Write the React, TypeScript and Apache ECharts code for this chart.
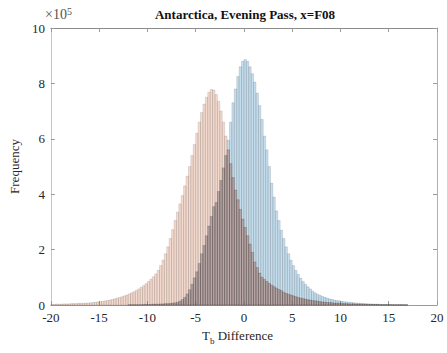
import React, { useEffect, useRef } from "react";
import * as echarts from "echarts";

// Histogram bins (values in units of 1e5 counts), both on the same 0.25-wide bin grid
const binWidth = 0.25;
const tanStart = -20;
const blueStart = -12;

const tanCounts: number[] = [
  // -20 .. -15
  0.02, 0.02, 0.03, 0.03, 0.03, 0.04, 0.04, 0.04,
  0.05, 0.05, 0.05, 0.06, 0.06, 0.06, 0.07, 0.07,
  0.08, 0.09, 0.10, 0.11,
  // -15 .. -10
  0.12, 0.13, 0.15, 0.16, 0.18, 0.20, 0.22, 0.25,
  0.27, 0.30, 0.33, 0.36, 0.40, 0.44, 0.48, 0.53,
  0.58, 0.64, 0.70, 0.77,
  // -10 .. -5
  0.85, 0.93, 1.02, 1.12, 1.25, 1.42, 1.62, 1.85,
  2.10, 2.40, 2.72, 3.05, 3.35, 3.65, 3.95, 4.30,
  4.65, 5.00, 5.40, 5.80,
  // -5 .. 0
  6.20, 6.60, 6.95, 7.25, 7.50, 7.68, 7.78, 7.76,
  7.60, 7.35, 7.00, 6.60, 6.10, 5.60, 5.10, 4.60,
  4.15, 3.80, 3.45, 3.10,
  // 0 .. 5
  2.80, 2.50, 2.20, 1.90, 1.55, 1.35, 1.15, 1.00,
  0.92, 0.85, 0.78, 0.72, 0.66, 0.61, 0.56, 0.52,
  0.46, 0.42, 0.39, 0.36,
  // 5 .. 10
  0.33, 0.30, 0.27, 0.25, 0.23, 0.21, 0.19, 0.18,
  0.16, 0.15, 0.14, 0.12, 0.11, 0.10, 0.09, 0.09,
  0.08, 0.07, 0.07, 0.06,
  // 10 .. 17
  0.06, 0.05, 0.05, 0.04, 0.04, 0.04, 0.03, 0.03,
  0.03, 0.03, 0.02, 0.02, 0.02, 0.02, 0.02, 0.02,
  0.01, 0.01, 0.01, 0.01, 0.01, 0.01, 0.01, 0.01,
  0.01, 0.01, 0.005, 0.005,
];

const blueCounts: number[] = [
  // -12 .. -7
  0.01, 0.01, 0.01, 0.01, 0.01, 0.01, 0.02, 0.02,
  0.02, 0.02, 0.03, 0.03, 0.03, 0.04, 0.04, 0.05,
  0.05, 0.06, 0.07, 0.08,
  // -7 .. -2
  0.10, 0.14, 0.20, 0.28, 0.40, 0.55, 0.75, 0.98,
  1.20, 1.50, 1.85, 2.15, 2.50, 2.85, 3.20, 3.55,
  3.70, 4.10, 4.50, 4.95,
  // -2 .. 3
  5.40, 5.95, 6.60, 7.30, 7.80, 8.25, 8.60, 8.80,
  8.86, 8.80, 8.60, 8.35, 8.05, 7.65, 7.20, 6.70,
  6.10, 5.60, 5.00, 4.40,
  // 3 .. 8
  3.90, 3.40, 3.05, 2.70, 2.40, 2.10, 1.85, 1.62,
  1.42, 1.25, 1.10, 0.97, 0.85, 0.75, 0.66, 0.58,
  0.50, 0.44, 0.39, 0.35,
  // 8 .. 17
  0.31, 0.28, 0.25, 0.22, 0.20, 0.18, 0.16, 0.15,
  0.13, 0.12, 0.11, 0.10, 0.09, 0.08, 0.07, 0.07,
  0.06, 0.05, 0.05, 0.04, 0.04, 0.03, 0.03, 0.03,
  0.02, 0.02, 0.02, 0.02, 0.02, 0.01, 0.01, 0.01,
  0.01, 0.01, 0.01, 0.01,
];

const xTicks = { min: -20, max: 20, interval: 5 };
const yTicks = { min: 0, max: 10, interval: 2 };

const titleText = "Antarctica, Evening Pass, x=F08";
const yName = "Frequency";

const FONT = "'Liberation Serif', 'Times New Roman', serif";

function toBins(start: number, counts: number[]) {
  return counts.map((v, i) => [start + i * binWidth, start + (i + 1) * binWidth, v]);
}

// where both histograms are present, the shared part is shaded darker (as the overlapping translucent bars are)
function overlapBins() {
  const offset = Math.round((blueStart - tanStart) / binWidth);
  return blueCounts.map((b, i) => {
    const t = tanCounts[i + offset] ?? 0;
    return [blueStart + i * binWidth, blueStart + (i + 1) * binWidth, Math.min(b, t)];
  });
}

function makeRender(fill: string, stroke: string, lineWidth: number) {
  return (params: any, api: any) => {
    const x0 = api.value(0);
    const x1 = api.value(1);
    const v = api.value(2);
    const p0 = api.coord([x0, v]);
    const p1 = api.coord([x1, 0]);
    return {
      type: "rect",
      shape: { x: p0[0], y: p0[1], width: p1[0] - p0[0], height: p1[1] - p0[1] },
      style: { fill, stroke, lineWidth },
    };
  };
}

export default function App() {
  const ref = useRef<HTMLDivElement>(null);
  useEffect(() => {
    if (!ref.current) return;
    const chart = echarts.init(ref.current, undefined, { renderer: "svg" });
    const axisColor = "#9a9a9a";
    const labelColor = "#262626";
    chart.setOption({
      animation: false,
      backgroundColor: "#ffffff",
      textStyle: { fontFamily: FONT },
      title: {
        text: titleText,
        left: 240,
        textAlign: "center",
        top: 3,
        textStyle: { fontFamily: FONT, fontSize: 13, fontWeight: "bold", color: "#111" },
      },
      grid: { left: 44, right: 10, top: 28, bottom: 48 },
      xAxis: [
        {
          type: "value",
          min: xTicks.min,
          max: xTicks.max,
          interval: xTicks.interval,
          axisLine: { show: true, onZero: false, lineStyle: { color: axisColor, width: 1 } },
          axisTick: { show: true, inside: true, length: 4, lineStyle: { color: axisColor } },
          axisLabel: { color: labelColor, fontFamily: FONT, fontSize: 13, margin: 6 },
          splitLine: { show: false },
        },
        {
          type: "value",
          position: "top",
          min: xTicks.min,
          max: xTicks.max,
          interval: xTicks.interval,
          axisLine: { show: true, onZero: false, lineStyle: { color: "#8a8a8a", width: 1 } },
          axisTick: { show: true, inside: true, length: 4, lineStyle: { color: axisColor } },
          axisLabel: { show: false },
          splitLine: { show: false },
        },
      ],
      yAxis: [
        {
          type: "value",
          min: yTicks.min,
          max: yTicks.max,
          interval: yTicks.interval,
          name: yName,
          nameLocation: "middle",
          nameGap: 28,
          nameTextStyle: { color: labelColor, fontFamily: FONT, fontSize: 13 },
          axisLine: { show: true, onZero: false, lineStyle: { color: "#c4c4c4", width: 1 } },
          axisTick: { show: true, inside: true, length: 4, lineStyle: { color: axisColor } },
          axisLabel: { color: labelColor, fontFamily: FONT, fontSize: 13, margin: 6 },
          splitLine: { show: false },
        },
        {
          type: "value",
          position: "right",
          min: yTicks.min,
          max: yTicks.max,
          interval: yTicks.interval,
          axisLine: { show: true, onZero: false, lineStyle: { color: "#b0b0b0", width: 1 } },
          axisTick: { show: true, inside: true, length: 4, lineStyle: { color: axisColor } },
          axisLabel: { show: false },
          splitLine: { show: false },
        },
      ],
      graphic: [
        {
          type: "text",
          left: 45,
          top: 6,
          style: {
            text: "×10{s|5}",
            fontFamily: FONT,
            fontSize: 14,
            fill: "#555",
            rich: { s: { fontSize: 10, verticalAlign: "top", fill: "#555", fontFamily: FONT, padding: [0, 0, 7, 0] } },
          },
        },
        {
          type: "text",
          left: 202,
          top: 329,
          style: {
            text: "T{s|b} Difference",
            fontFamily: FONT,
            fontSize: 13,
            fill: labelColor,
            rich: { s: { fontSize: 9, fill: labelColor, fontFamily: FONT, padding: [10, 0, 0, 0] } },
          },
        },
      ],
      series: [
        {
          type: "custom",
          name: "blue",
          xAxisIndex: 0,
          yAxisIndex: 0,
          renderItem: makeRender("rgba(140,190,222,0.5)", "rgba(20,20,20,0.24)", 0.5),
          encode: { x: [0, 1], y: 2 },
          data: toBins(blueStart, blueCounts),
        },
        {
          type: "custom",
          name: "tan",
          xAxisIndex: 0,
          yAxisIndex: 0,
          renderItem: makeRender("rgba(232,170,140,0.42)", "rgba(20,20,20,0.24)", 0.5),
          encode: { x: [0, 1], y: 2 },
          data: toBins(tanStart, tanCounts),
        },
        {
          type: "custom",
          name: "overlap",
          xAxisIndex: 0,
          yAxisIndex: 0,
          silent: true,
          renderItem: makeRender("rgba(95,65,70,0.24)", "rgba(0,0,0,0.15)", 0.5),
          encode: { x: [0, 1], y: 2 },
          data: overlapBins(),
        },
      ],
    });
    return () => chart.dispose();
  }, []);
  return (
    <div
      ref={ref}
      style={{ position: "fixed", left: 0, top: 0, width: 447, height: 353, background: "#fff" }}
    />
  );
}
